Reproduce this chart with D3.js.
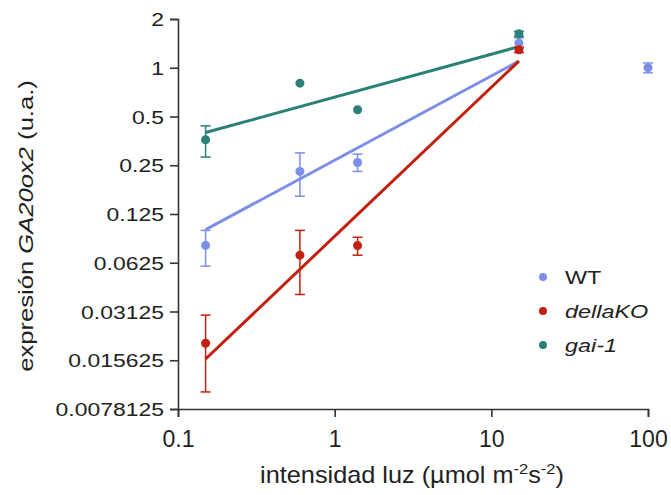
<!DOCTYPE html>
<html>
<head>
<meta charset="utf-8">
<script src="https://cdn.jsdelivr.net/npm/d3@7"></script>
<style>
  body { margin: 0; background: #fff; }
  svg { display: block; font-family: "Liberation Sans", Arial, sans-serif; }
</style>
</head>
<body>
<div id="chart"></div>
<script>
// light intensity (x) for each measured point
const wtX = [0.15, 0.6, 1.4, 15, 100];
const wtY = [0.08, 0.229, 0.26, 1.42, 1.0];
const wtLo = [0.0595, 0.161, 0.229, 1.32, 0.93];
const wtHi = [0.099, 0.298, 0.293, 1.53, 1.07];

const dkX = [0.15, 0.6, 1.4, 15];
const dkY = [0.0199, 0.0696, 0.0798, 1.29];
const dkLo = [0.00996, 0.0398, 0.0696, 1.24];
const dkHi = [0.0297, 0.099, 0.0898, 1.34];

const gaiX = [0.15, 0.6, 1.4, 15];
const gaiY = [0.359, 0.803, 0.55, 1.62];
const gaiLo = [0.281, 0.803, 0.55, 1.56];
const gaiHi = [0.438, 0.803, 0.55, 1.68];

// fitted lines (start / end)
const fitX = [0.15, 15];
const wtFit = [0.1, 1.1];
const dkFit = [0.0159, 1.1];
const gaiFit = [0.398, 1.35];

const yTicks = [2, 1, 0.5, 0.25, 0.125, 0.0625, 0.03125, 0.015625, 0.0078125];
const xTicks = [0.1, 1, 10, 100];

const width = 671;
const height = 495;
const margin = { top: 19, right: 23, bottom: 86, left: 178 };

const series = [
    { name: 'WT', italic: false, color: '#7d8ee6', x: wtX, y: wtY, lo: wtLo, hi: wtHi, fit: wtFit },
    { name: 'dellaKO', italic: true, color: '#c2200f', x: dkX, y: dkY, lo: dkLo, hi: dkHi, fit: dkFit },
    { name: 'gai-1', italic: true, color: '#2b8078', x: gaiX, y: gaiY, lo: gaiLo, hi: gaiHi, fit: gaiFit },
];

const svg = d3.select('#chart')
    .append('svg')
    .attr('width', width)
    .attr('height', height);

const x = d3.scaleLog()
    .domain([0.1, 100])
    .range([margin.left, width - margin.right]);

const y = d3.scaleLog()
    .base(2)
    .domain([0.0078125, 2])
    .range([height - margin.bottom, margin.top]);

// axes
const xAxis = svg.append('g')
    .attr('transform', `translate(0, ${height - margin.bottom})`)
    .call(d3.axisBottom(x).tickValues(xTicks).tickFormat(d => String(d)).tickSize(8));

const yAxis = svg.append('g')
    .attr('transform', `translate(${margin.left}, 0)`)
    .call(d3.axisLeft(y).tickValues(yTicks).tickFormat(d => String(d)).tickSize(8));

[xAxis, yAxis].forEach(g => {
    g.select('.domain').attr('stroke', '#333').attr('stroke-width', 1.6);
    g.selectAll('.tick line').attr('stroke', '#333').attr('stroke-width', 1.6);
    g.selectAll('.tick text')
        .attr('fill', '#222')
        .attr('font-family', '"Liberation Sans", Arial, sans-serif');
});

// y tick labels are drawn wide in the original
yAxis.selectAll('.tick text')
    .attr('font-size', '18.5px')
    .attr('x', 0)
    .attr('dy', '0.36em')
    .attr('transform', 'translate(-14, 0) scale(1.24, 1)');

xAxis.selectAll('.tick text')
    .attr('font-size', '23px')
    .attr('y', 0)
    .attr('dy', 0)
    .attr('transform', 'translate(0, 38)');

// fit lines
series.forEach(s => {
    svg.append('line')
        .attr('x1', x(fitX[0]))
        .attr('y1', y(s.fit[0]))
        .attr('x2', x(fitX[1]))
        .attr('y2', y(s.fit[1]))
        .attr('stroke', s.color)
        .attr('stroke-width', 3);
});

// error bars and points
series.forEach(s => {
    const g = svg.append('g').attr('stroke', s.color).attr('fill', s.color);
    s.x.forEach((xv, i) => {
        if (s.hi[i] > s.lo[i]) {
            g.append('line')
                .attr('x1', x(xv)).attr('x2', x(xv))
                .attr('y1', y(s.lo[i])).attr('y2', y(s.hi[i]))
                .attr('stroke-width', 1.5);
            [s.lo[i], s.hi[i]].forEach(v => {
                g.append('line')
                    .attr('x1', x(xv) - 5).attr('x2', x(xv) + 5)
                    .attr('y1', y(v)).attr('y2', y(v))
                    .attr('stroke-width', 1.5);
            });
        }
        g.append('circle')
            .attr('cx', x(xv))
            .attr('cy', y(s.y[i]))
            .attr('r', 4.5)
            .attr('stroke', 'none');
    });
});

// legend
const legend = svg.append('g');
series.forEach((s, i) => {
    const ly = 277 + i * 34;
    legend.append('circle')
        .attr('cx', 543)
        .attr('cy', ly)
        .attr('r', 4)
        .attr('fill', s.color);
    legend.append('text')
        .attr('transform', `translate(565, ${ly + 6.5}) scale(1.3, 1)`)
        .attr('font-size', '18px')
        .attr('fill', '#222')
        .attr('font-style', s.italic ? 'italic' : 'normal')
        .text(s.name);
});

// axis titles
const yTitle = svg.append('text')
    .attr('transform', 'translate(33, 226) rotate(-90) scale(1.22, 1)')
    .attr('text-anchor', 'middle')
    .attr('font-size', '21px')
    .attr('fill', '#222');
yTitle.append('tspan').text('expresión ');
yTitle.append('tspan').attr('font-style', 'italic').text('GA20ox2');
yTitle.append('tspan').text(' (u.a.)');

const xTitle = svg.append('text')
    .attr('transform', 'translate(412, 483) scale(1.1, 1)')
    .attr('text-anchor', 'middle')
    .attr('font-size', '23px')
    .attr('fill', '#222');
xTitle.append('tspan').text('intensidad luz (µmol m');
xTitle.append('tspan').attr('font-size', '15px').attr('dy', -9).text('-2');
xTitle.append('tspan').attr('dy', 9).text('s');
xTitle.append('tspan').attr('font-size', '15px').attr('dy', -9).text('-2');
xTitle.append('tspan').attr('dy', 9).text(')');
</script>
</body>
</html>
